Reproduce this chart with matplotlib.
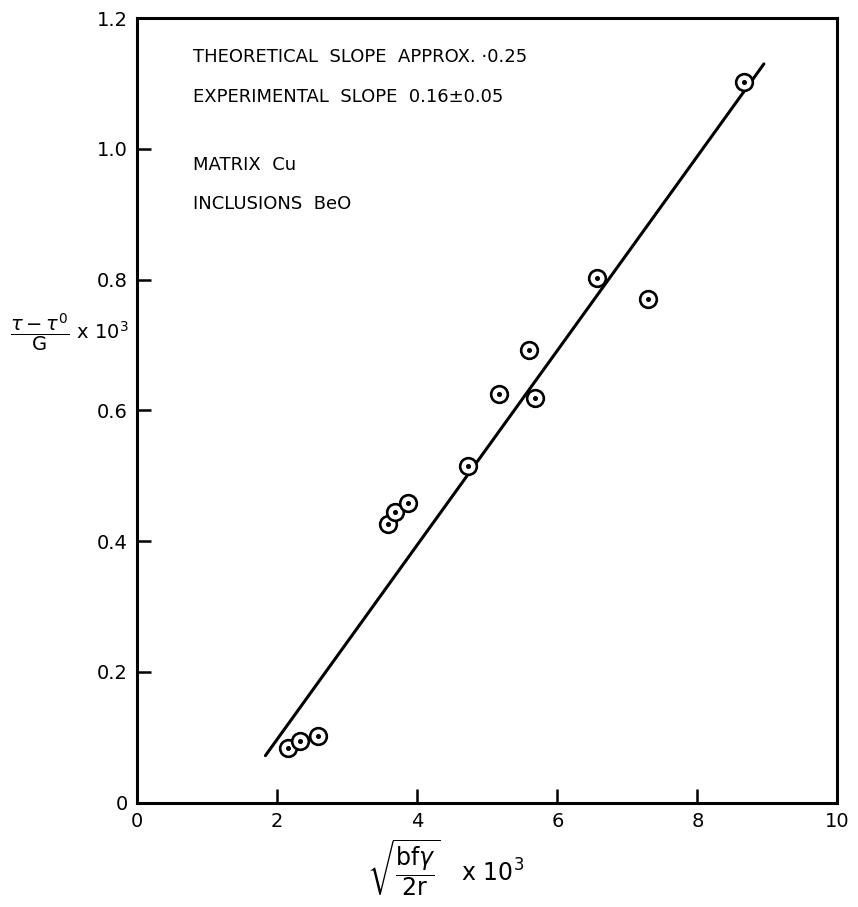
import numpy as np
import matplotlib.pyplot as plt

x_vals = [2.15, 2.32, 2.58, 3.58, 3.68, 3.86, 4.72, 5.16, 5.60, 5.68, 6.57, 7.30, 8.66]
y_vals = [0.084, 0.095, 0.102, 0.426, 0.445, 0.458, 0.515, 0.625, 0.692, 0.619, 0.803, 0.770, 1.103]

# straight line drawn through the data
fit_x = [1.83, 8.95]
fit_y = [0.072, 1.130]

x_ticks = [0, 2, 4, 6, 8, 10]
x_tick_labels = ['0', '2', '4', '6', '8', '10']
y_ticks = [0, 0.2, 0.4, 0.6, 0.8, 1.0, 1.2]
y_tick_labels = ['0', '0.2', '0.4', '0.6', '0.8', '1.0', '1.2']

notes = ['THEORETICAL  SLOPE  APPROX. \u00b70.25',
         'EXPERIMENTAL  SLOPE  0.16\u00b10.05',
         'MATRIX  Cu',
         'INCLUSIONS  BeO']
note_y = [1.14, 1.08, 0.975, 0.915]

plt.rcParams['mathtext.fontset'] = 'dejavusans'
plt.rcParams['font.family'] = 'DejaVu Sans'

fig = plt.figure(figsize=(8.58, 9.07), dpi=100)
ax = fig.add_axes([0.160, 0.115, 0.816, 0.865])

ax.plot(fit_x, fit_y, color='black', lw=2.2, solid_capstyle='round')
ax.plot(x_vals, y_vals, 'o', ms=12, mfc='white', mec='black', mew=1.9)
ax.plot(x_vals, y_vals, 'o', ms=2.6, color='black')

ax.set_xlim(0, 10)
ax.set_ylim(0, 1.2)
ax.set_xticks(x_ticks)
ax.set_xticklabels(x_tick_labels)
ax.set_yticks(y_ticks)
ax.set_yticklabels(y_tick_labels)
ax.tick_params(direction='in', length=10, width=1.8, labelsize=14, pad=7)
for s in ax.spines.values():
    s.set_linewidth(2.2)

for txt, yy in zip(notes, note_y):
    ax.text(0.79, yy, txt, fontsize=13, va='center', ha='left')

ax.text(-0.097, 0.72, r'$\dfrac{\tau - \tau^{0}}{\mathrm{G}}\ \mathrm{x}\ 10^{3}$',
        transform=ax.get_yaxis_transform(), fontsize=14, ha='center', va='center')
ax.text(4.4, -0.1, r'$\sqrt{\dfrac{\mathrm{bf}\gamma}{\mathrm{2r}}}\ \ \ \mathrm{x}\ 10^{3}$',
        fontsize=17, ha='center', va='center')

fig.savefig('out.png', dpi=100)
